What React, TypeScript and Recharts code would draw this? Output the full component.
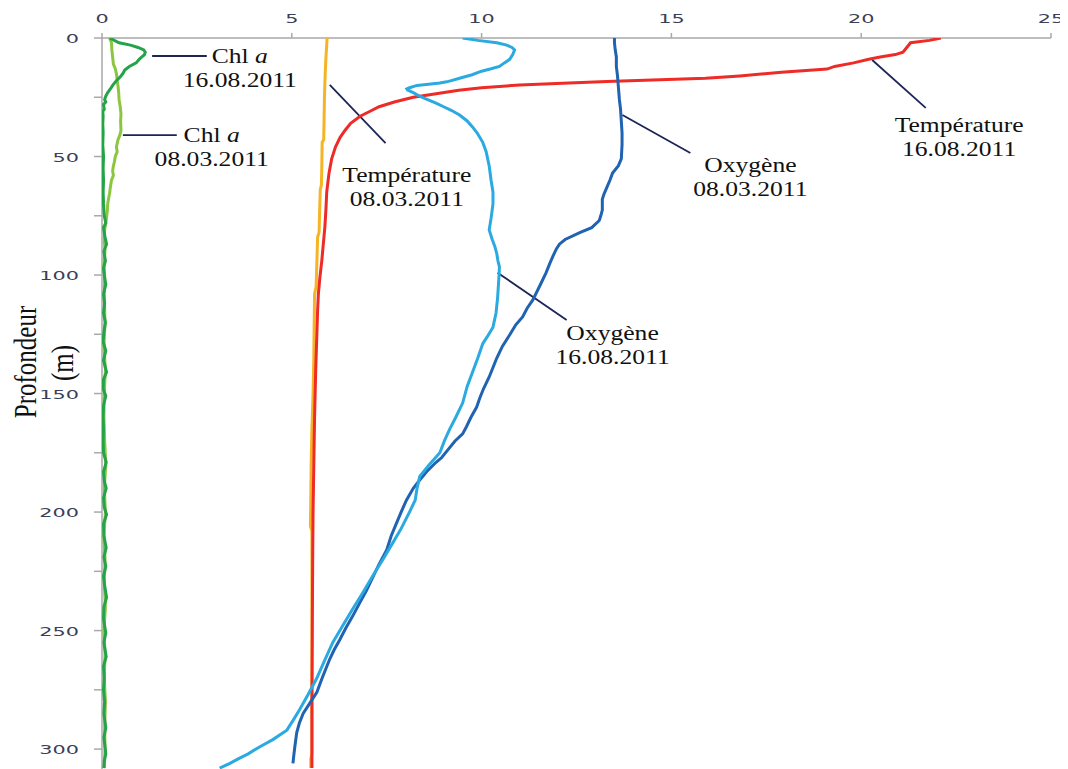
import { ScatterChart, Scatter, XAxis, YAxis, ReferenceLine, ReferenceDot } from 'recharts'

// profiles are stored as [depth (m), value] pairs, top to bottom
const chl1608: [number, number][] = [
  [0, 0.2], [2, 0.45], [3, 0.75], [4, 0.95], [5, 1.1], [6, 1.14], [7, 1.12], [8, 1.05], [9, 0.98],
  [10.5, 0.9], [12, 0.72], [13.5, 0.6], [15, 0.55], [16, 0.5], [18, 0.38], [20, 0.28], [21.5, 0.22],
  [23, 0.15], [24.5, 0.1], [26, 0.07], [27, 0.1], [28, 0.04], [30, 0.06], [31, 0.02], [33, 0.03],
  [36, 0.02], [40, 0.03], [45, 0.02], [50, 0.04], [55, 0.03], [60, 0.04], [65, 0.03], [70, 0.04],
  [75, 0.06], [78, 0.1], [80, 0.04], [84, 0.08], [87, 0.12], [90, 0.05], [94, 0.09], [97, 0.04],
  [100, 0.06], [104, 0.1], [108, 0.04], [112, 0.07], [116, 0.04], [120, 0.09], [124, 0.05],
  [128, 0.03], [132, 0.1], [136, 0.04], [141, 0.12], [144, 0.04], [148, 0.03], [151, 0.1],
  [155, 0.04], [160, 0.03], [165, 0.04], [170, 0.03], [175, 0.04], [179, 0.11], [183, 0.04],
  [187, 0.06], [190, 0.11], [194, 0.04], [198, 0.06], [201, 0.12], [205, 0.04], [210, 0.05],
  [215, 0.11], [219, 0.05], [223, 0.1], [227, 0.04], [231, 0.07], [236, 0.12], [240, 0.05],
  [245, 0.04], [251, 0.1], [255, 0.05], [261, 0.11], [265, 0.04], [270, 0.06], [275, 0.04],
  [280, 0.07], [285, 0.05], [291, 0.1], [295, 0.05], [302, 0.1], [305, 0.06], [308, 0.05],
]

const chl0803: [number, number][] = [
  [0, 0.2], [2, 0.25], [5, 0.26], [8, 0.28], [11, 0.3], [13, 0.35], [15, 0.38], [18, 0.4], [20, 0.42],
  [23, 0.44], [26, 0.45], [29, 0.48], [32, 0.5], [35, 0.49], [39, 0.5], [41, 0.47], [43, 0.42],
  [46, 0.38], [48, 0.4], [50, 0.35], [52, 0.33], [54, 0.3], [56, 0.28], [58, 0.3], [60, 0.25],
  [63, 0.22], [65.5, 0.2], [68, 0.17], [70, 0.15], [73, 0.14], [75.5, 0.12], [78, 0.1], [81, 0.07],
  [85, 0.06], [90, 0.08], [95, 0.05], [100, 0.07], [110, 0.06], [120, 0.08], [130, 0.05], [140, 0.09],
  [150, 0.06], [160, 0.05], [170, 0.07], [180, 0.1], [190, 0.06], [200, 0.09], [210, 0.05],
  [220, 0.08], [230, 0.06], [240, 0.09], [250, 0.05], [260, 0.08], [270, 0.06], [280, 0.09],
  [290, 0.07], [300, 0.08], [308, 0.06],
]

const temp0803: [number, number][] = [
  [0, 5.93], [3, 5.92], [8, 5.9], [15, 5.88], [25, 5.86], [35, 5.85], [43, 5.84], [44, 5.8],
  [55, 5.79], [62, 5.78], [64, 5.75], [75, 5.73], [82, 5.72], [84, 5.68], [95, 5.66], [105, 5.64],
  [108, 5.6], [120, 5.59], [135, 5.58], [150, 5.56], [165, 5.53], [180, 5.51], [195, 5.5],
  [206, 5.49], [208, 5.53], [230, 5.53], [260, 5.53], [290, 5.53], [302, 5.53], [304, 5.5], [308, 5.5],
]

const temp1608: [number, number][] = [
  [0, 22.1], [1, 21.8], [2, 21.3], [4, 21.2], [6, 21.1], [7, 20.9], [8, 20.5], [9, 20.2],
  [10.5, 19.8], [12, 19.3], [13.1, 19.1], [14.5, 17.9], [16, 16.8], [17, 15.9], [17.8, 14.3],
  [18.3, 13.3], [19, 12.3], [19.8, 11.0], [21, 10.0], [22, 9.4], [23.5, 8.8], [25, 8.2], [27, 7.7],
  [29, 7.3], [31, 7.05], [33, 6.8], [36, 6.55], [39, 6.4], [42, 6.27], [46, 6.15], [51, 6.05],
  [57, 5.98], [65, 5.92], [72, 5.9], [80, 5.87], [87, 5.83], [94, 5.79], [101, 5.74], [108, 5.7],
  [115, 5.68], [125, 5.66], [140, 5.63], [160, 5.6], [180, 5.58], [200, 5.56], [220, 5.55],
  [250, 5.54], [280, 5.53], [308, 5.53],
]

const oxy0803: [number, number][] = [
  [0, 13.5], [2, 13.5], [5, 13.52], [8, 13.55], [12, 13.55], [16, 13.58], [20, 13.6], [26, 13.63],
  [30, 13.66], [35, 13.68], [40, 13.7], [45, 13.7], [51, 13.68], [54, 13.6], [57, 13.45], [60, 13.38],
  [63, 13.3], [66, 13.22], [68, 13.18], [72.6, 13.18], [75, 13.14], [77, 13.1], [80, 12.9], [82, 12.6],
  [85, 12.2], [87, 12.05], [89, 11.97], [92, 11.88], [95, 11.8], [99, 11.7], [104, 11.55],
  [110.5, 11.35], [114, 11.2], [117.7, 11.08], [121, 10.9], [125, 10.75], [130, 10.55], [135, 10.4],
  [139, 10.3], [143, 10.2], [148, 10.05], [152, 9.95], [155.7, 9.87], [160, 9.72], [164, 9.6],
  [167, 9.5], [170, 9.3], [174, 9.1], [177, 8.95], [179, 8.8], [183, 8.55], [186.5, 8.37], [190, 8.2],
  [195, 8.02], [200, 7.88], [205, 7.75], [210, 7.62], [216, 7.5], [222, 7.3], [228, 7.12], [233, 6.97],
  [238, 6.8], [244, 6.6], [249, 6.42], [254, 6.26], [258, 6.12], [262, 6.0], [266, 5.9], [270, 5.8],
  [276, 5.66], [280, 5.5], [285, 5.3], [289, 5.2], [293, 5.13], [299, 5.08], [303, 5.05], [306, 5.03],
]

const oxy1608: [number, number][] = [
  [0, 9.5], [1, 9.9], [2, 10.4], [3, 10.66], [4, 10.8], [5, 10.87], [7, 10.82], [9, 10.74],
  [10.5, 10.6], [12, 10.47], [13, 10.25], [14, 10.0], [15.5, 9.75], [17, 9.42], [18, 9.2],
  [18.5, 9.08], [19, 8.9], [19.5, 8.6], [20, 8.3], [21, 8.1], [21.5, 8.03], [22, 8.05], [23, 8.2],
  [24, 8.3], [25.5, 8.5], [27.5, 8.8], [29, 9.0], [30.5, 9.2], [32.5, 9.42], [35, 9.62], [37.5, 9.76],
  [40, 9.88], [44, 10.03], [48, 10.12], [54, 10.2], [60, 10.25], [65, 10.3], [70, 10.3], [76, 10.25],
  [81, 10.2], [85, 10.28], [88, 10.35], [91, 10.4], [94, 10.43], [96.6, 10.47], [100, 10.46],
  [105, 10.44], [110, 10.42], [116, 10.38], [122, 10.3], [126, 10.15], [129, 10.03], [135, 9.9],
  [141, 9.76], [147, 9.62], [154, 9.5], [160, 9.32], [165, 9.16], [170, 9.02], [175, 8.9], [180, 8.62],
  [185, 8.37], [190, 8.3], [195, 8.25], [200, 8.1], [207, 7.88], [213, 7.66], [220, 7.4], [227, 7.13],
  [234, 6.87], [241, 6.6], [248, 6.34], [255, 6.08], [262, 5.88], [270, 5.66], [277, 5.43],
  [283.5, 5.2], [288, 5.03], [292, 4.87], [296, 4.5], [299, 4.16], [302, 3.85], [304, 3.6],
  [306, 3.37], [308, 3.1],
]

const X_TICKS = [0, 5, 10, 15, 20, 25]
const DEPTH_TICKS = [0, 25, 50, 75, 100, 125, 150, 175, 200, 225, 250, 275, 300]
const DEPTH_MAX = 308.4

// callouts: text lines, anchor of first line and leader segment, all in data units
const NOTES = [
  { lines: ['Chl', '16.08.2011'], at: [3.63, 7.6], lead: [[1.32, 7.6], [2.76, 7.6]] },
  { lines: ['Chl', '08.03.2011'], at: [2.89, 40.9], lead: [[0.55, 41], [1.97, 41]] },
  { lines: ['Température', '08.03.2011'], at: [8.03, 57.8], lead: [[6.0, 19.8], [7.47, 44.3]] },
  { lines: ['Température', '16.08.2011'], at: [22.58, 36.7], lead: [[20.29, 9.3], [21.7, 29.5]] },
  { lines: ['Oxygène', '08.03.2011'], at: [17.08, 53.6], lead: [[13.71, 32.5], [15.5, 48.5]] },
  { lines: ['Oxygène', '16.08.2011'], at: [13.45, 124.5], lead: [[10.42, 99], [12.24, 119]] },
]

const SERIES = [
  { name: 'chl0803', data: chl0803, color: '#8cc63f' },
  { name: 'chl1608', data: chl1608, color: '#25a348' },
  { name: 'temp0803', data: temp0803, color: '#f6b323' },
  { name: 'temp1608', data: temp1608, color: '#ee2b26' },
  { name: 'oxy0803', data: oxy0803, color: '#1f63b2' },
  { name: 'oxy1608', data: oxy1608, color: '#2ba9e1' },
]

const AXIS = '#a9a9a9'
const TICK_TEXT = '#3a3f5a'
const NOTE_TEXT = '#111111'
const LEADER = '#1c2556'

const toPoints = (rows: [number, number][]) => rows.map(([d, x]) => ({ x, d }))

const XTick = ({ x, y, payload }: any) => (
  <text
    transform={`translate(${x},${y - 8}) scale(1.6,1)`}
    textAnchor="middle"
    fontFamily="DejaVu Sans"
    fontSize={13}
    fill={TICK_TEXT}
  >
    {payload.value}
  </text>
)

const YTick = ({ x, y, payload }: any) =>
  payload.value % 50 === 0 ? (
    <text
      transform={`translate(${x - 13},${y + 5}) scale(1.6,1)`}
      textAnchor="end"
      fontFamily="DejaVu Sans"
      fontSize={13}
      fill={TICK_TEXT}
    >
      {payload.value}
    </text>
  ) : (
    <g />
  )

const DepthTitle = ({ viewBox }: any) => {
  const vb = viewBox || { x: 0, y: 30 }
  return (
    <g fontFamily="Liberation Serif" fontSize={25} fill={NOTE_TEXT} textAnchor="middle">
      <text transform={`translate(${vb.x + 28},${vb.y + 324}) scale(1.25,1) rotate(-90)`}>Profondeur</text>
      <text transform={`translate(${vb.x + 65},${vb.y + 325}) scale(1.25,1) rotate(-90)`}>(m)</text>
    </g>
  )
}

const NoteText = ({ cx, cy, lines }: { cx: number; cy: number; lines: string[] }) => (
  <text
    transform={`translate(${cx},${cy}) scale(1.28,1)`}
    textAnchor="middle"
    fontFamily="Liberation Serif"
    fontSize={20}
    fill={NOTE_TEXT}
  >
    <tspan x={0} y={7}>
      {lines[0]}
      {lines[0] === 'Chl' && <tspan fontStyle="italic"> a</tspan>}
    </tspan>
    <tspan x={0} y={31}>
      {lines[1]}
    </tspan>
  </text>
)

const noDot = () => <g />

export default function App() {
  return (
    <ScatterChart width={1060} height={761} margin={{ top: 0, right: 17, bottom: 0, left: 0 }}>
      <XAxis
        type="number"
        dataKey="x"
        orientation="top"
        height={30}
        domain={[0, 25]}
        ticks={X_TICKS}
        allowDataOverflow
        axisLine={{ stroke: AXIS, strokeWidth: 1.5 }}
        tickLine={{ stroke: AXIS, strokeWidth: 1.5 }}
        tickSize={5}
        tick={<XTick />}
      />
      <YAxis
        type="number"
        dataKey="d"
        reversed
        width={94}
        domain={[0, DEPTH_MAX]}
        ticks={DEPTH_TICKS}
        allowDataOverflow
        axisLine={{ stroke: AXIS, strokeWidth: 1.5 }}
        tickLine={{ stroke: AXIS, strokeWidth: 1.5 }}
        tickSize={8}
        tick={<YTick />}
        label={{ content: (p: any) => <DepthTitle viewBox={p.viewBox} /> }}
      />
      {SERIES.map((s) => (
        <Scatter
          key={s.name}
          name={s.name}
          data={toPoints(s.data)}
          line={{ stroke: s.color, strokeWidth: 3, fill: 'none' }}
          shape={noDot}
          isAnimationActive={false}
        />
      ))}
      {NOTES.map((n, i) => (
        <ReferenceLine
          key={`lead-${i}`}
          segment={[
            { x: n.lead[0][0], y: n.lead[0][1] },
            { x: n.lead[1][0], y: n.lead[1][1] },
          ]}
          stroke={LEADER}
          strokeWidth={1.8}
        />
      ))}
      {NOTES.map((n, i) => (
        <ReferenceDot
          key={`note-${i}`}
          x={n.at[0]}
          y={n.at[1]}
          r={0}
          shape={(p: any) => <NoteText cx={p.cx} cy={p.cy} lines={n.lines} />}
        />
      ))}
    </ScatterChart>
  )
}
